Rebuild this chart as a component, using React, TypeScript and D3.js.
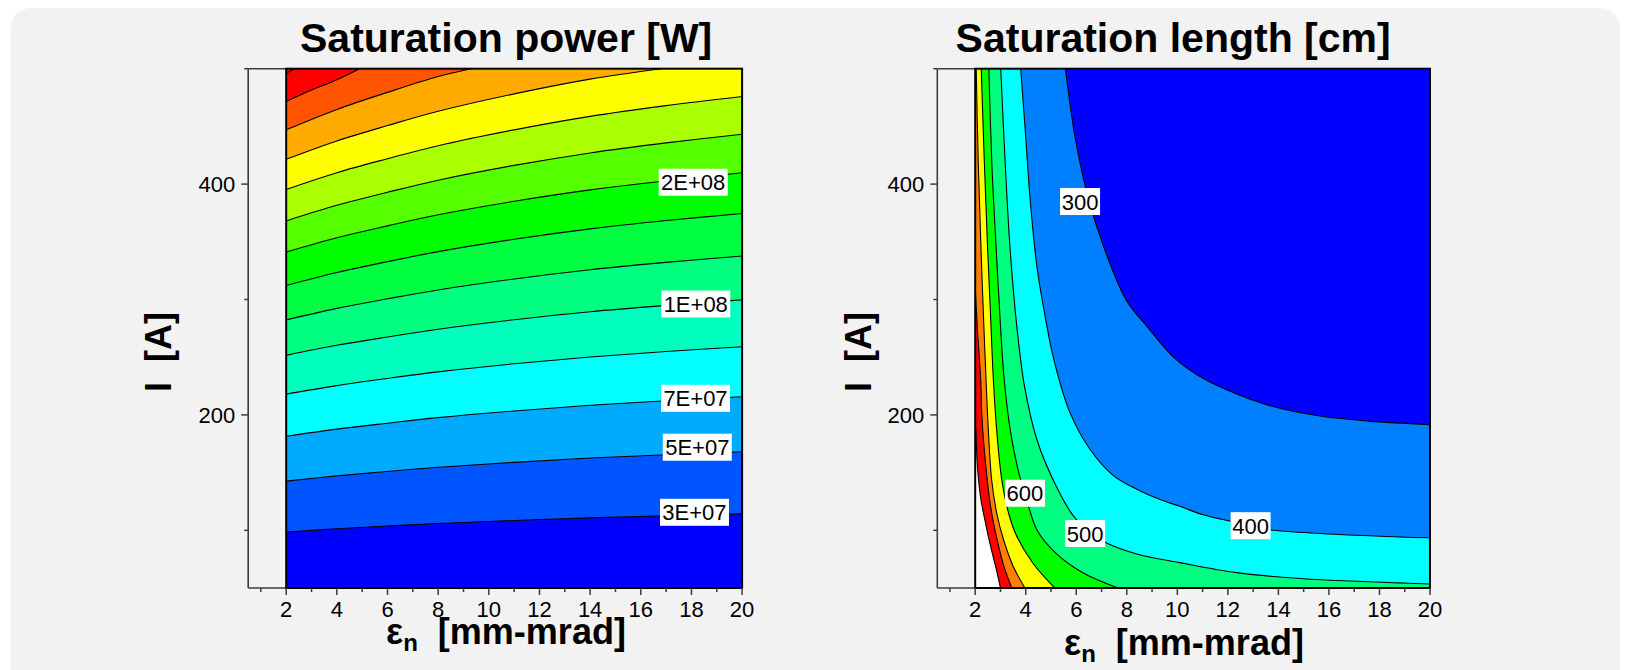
import React from 'react';
import * as d3 from 'd3';

const FONT = "'Liberation Sans', Arial, Helvetica, sans-serif";

// ---- axes ----
const xMajorTicks = [2, 4, 6, 8, 10, 12, 14, 16, 18, 20];
const xMinorTicks = [1, 3, 5, 7, 9, 11, 13, 15, 17, 19];
const yMajorTicks = [200, 400];
const yMinorTicks = [100, 300, 500];

// ---- left panel: saturation power [W] ----
const powerLevels = [3e7, 5e7, 7e7, 9e7, 11e7, 13e7, 15e7, 17e7, 19e7, 21e7, 23e7, 25e7, 27e7, 29e7];
const powerColors = [
  '#0000ff', '#0055ff', '#00aaff', '#00ffff', '#00ffbf', '#00ff80', '#00ff40', '#00ff00',
  '#55ff00', '#aaff00', '#ffff00', '#ffaa00', '#ff5500', '#ff0000', '#ff0000',
];
// contour lines, [emittance, current]
const powerLines: [number, number][][] = [
  [[2, 98.5], [4, 101.3], [6, 103.7], [8, 105.9], [11, 108.5], [14, 110.8], [17, 112.6], [20, 114.2]],
  [[2, 142.6], [4, 147.2], [6, 151.0], [8, 154.6], [11, 158.9], [14, 162.6], [17, 165.5], [20, 168.1]],
  [[2, 181.5], [4, 187.7], [6, 192.8], [8, 197.6], [11, 203.4], [14, 208.3], [17, 212.3], [20, 215.7]],
  [[2, 218], [4, 225.4], [6, 231.6], [8, 237.3], [11, 244.3], [14, 250.2], [17, 255.0], [20, 259.1]],
  [[2, 251.6], [4, 260.3], [6, 267.5], [8, 274.2], [11, 282.4], [14, 289.4], [17, 294.9], [20, 299.7]],
  [[2, 282.3], [4, 292.3], [6, 300.6], [8, 308.3], [11, 317.8], [14, 325.8], [17, 332.2], [20, 337.7]],
  [[2, 312.2], [4, 323.4], [6, 332.8], [8, 341.5], [11, 352.2], [14, 361.2], [17, 368.4], [20, 374.5]],
  [[2, 341.1], [4, 353.5], [6, 363.8], [8, 373.4], [11, 385.1], [14, 395.0], [17, 402.9], [20, 409.8]],
  [[2, 368.1], [4, 381.6], [6, 392.9], [8, 403.4], [11, 416.2], [14, 427.0], [17, 435.7], [20, 443.2]],
  [[2, 395.4], [4, 409.9], [6, 422.0], [8, 433.3], [11, 447.0], [14, 458.7], [17, 468.0], [20, 475.9]],
  [[2, 421.5], [4, 437.4], [6, 450.7], [8, 463.1], [11, 478.2], [14, 491.0], [16.8, 500]],
  [[2, 447], [4, 464.7], [6, 479.5], [8, 493.2], [9.3, 500]],
  [[2, 471.6], [3, 481.5], [4, 490.5], [4.9, 500]],
  [[2, 496.3], [2.35, 500]],
];
const powerLabelText = ['2E+08', '1E+08', '7E+07', '5E+07', '3E+07'];
const powerLabelPos: [number, number][] = [[18.07, 401.6], [18.17, 296.1], [18.16, 214.4], [18.23, 172], [18.12, 115.6]];

// ---- right panel: saturation length [cm] ----
const lengthLevels = [300, 400, 500, 600, 700, 800, 900, 1000];
const lengthColors = ['#0000ff', '#0080ff', '#00ffff', '#00ff80', '#00ff00', '#ffff00', '#ff8000', '#ff0000'];
const lengthTopColor = '#ffffff';
const lengthLines: [number, number][][] = [
  [[5.57, 500], [5.95, 441], [6.45, 390], [7.07, 346.5], [7.99, 299], [8.79, 277], [9.9, 249], [11.03, 231.5], [12.35, 218.2], [13.67, 208], [15.65, 199], [17.6, 194.6], [20, 191.5]],
  [[3.8, 500], [3.98, 447], [4.17, 388], [4.44, 329], [4.77, 285], [5.1, 249], [5.75, 202], [6.55, 170], [7.47, 147.4], [8.39, 135.6], [9.31, 126.7], [10.1, 120.8], [11.03, 113.4], [12.9, 104], [13.67, 100.5], [15.65, 97.2], [18.8, 94.2], [20, 93.5]],
  [[3.01, 500], [3.19, 417], [3.38, 344], [3.65, 276], [3.95, 225], [4.45, 178], [5.1, 143], [5.9, 112], [6.5, 99], [7.2, 89], [8.4, 79.5], [10.1, 72], [12.35, 63.3], [15, 58], [18.8, 54.4], [20, 53.5]],
  [[2.54, 500], [2.66, 417], [2.83, 344], [3.02, 270], [3.15, 230], [3.4, 185], [3.7, 152], [3.98, 131], [4.45, 100], [5.2, 80], [6.28, 63], [7.65, 50]],
  [[2.24, 500], [2.36, 420], [2.48, 350], [2.6, 290], [2.72, 230], [2.85, 187], [3.05, 144], [3.32, 115], [3.64, 95], [4.3, 71], [5.15, 50]],
  [[2.04, 500], [2.12, 420], [2.22, 350], [2.32, 290], [2.43, 230], [2.52, 187], [2.65, 144], [2.85, 115], [3.12, 92], [3.51, 68.5], [3.97, 50]],
  [[2, 310], [2.1, 270], [2.22, 230], [2.26, 201], [2.41, 158], [2.61, 120.5], [2.87, 91.6], [3.14, 68.5], [3.45, 50]],
  [[2, 193], [2.03, 185], [2.08, 158], [2.21, 129], [2.41, 106], [2.61, 86], [2.81, 68.5], [3.0, 50]],
];
const lengthLabelText = ['300', '400', '500', '600'];
const lengthLabelPos: [number, number][] = [[6.15, 384.9], [12.9, 104], [6.35, 97.2], [3.97, 132.1]];

const Y_RANGE: [number, number] = [588, 68.7];

type PanelProps = {
  id: string;
  xRange: [number, number];
  title: string;
  titleX: number;
  xLabelX: number;
  xLabelY: number;
  yLabelX: number;
  kind: 'power' | 'length';
};

function Panel({ id, xRange, title, titleX, xLabelX, xLabelY, yLabelX, kind }: PanelProps) {
  const xS = d3.scaleLinear().domain([0.5, 20]).range(xRange);
  const yS = d3.scaleLinear().domain([50, 500]).range(Y_RANGE);
  const line = d3
    .line<[number, number]>()
    .x((d) => xS(d[0]))
    .y((d) => yS(d[1]))
    .curve(d3.curveCatmullRom.alpha(0.5));

  const px0 = xS(2);
  const px1 = xS(20);
  const pyTop = yS(500);
  const pyBot = yS(50);

  const fills: { d: string; color: string }[] = [];
  let base = '';
  let lines: [number, number][][] = [];
  if (kind === 'power') {
    base = powerColors[0];
    lines = powerLines;
    powerLines.forEach((pts, i) => {
      const last = pts[pts.length - 1];
      const d = `${line(pts)}L${xS(last[0])},${pyTop}L${px0},${pyTop}Z`;
      fills.push({ d, color: powerColors[i + 1] });
    });
  } else {
    base = lengthTopColor;
    lines = lengthLines;
    for (let k = lengthLines.length - 1; k >= 0; k--) {
      const pts = lengthLines[k];
      const first = pts[0];
      const last = pts[pts.length - 1];
      const d = `${line(pts)}L${px1},${yS(last[1])}L${px1},${pyTop}L${px0},${pyTop}L${px0},${yS(first[1])}Z`;
      fills.push({ d, color: lengthColors[k] });
    }
  }

  const labelText = kind === 'power' ? powerLabelText : lengthLabelText;
  const labelPos = kind === 'power' ? powerLabelPos : lengthLabelPos;
  const axisColor = '#3c3c3c';
  const ax = xS(0.5);

  return (
    <g>
      <defs>
        <clipPath id={`clip-${id}`}>
          <rect x={px0} y={pyTop} width={px1 - px0} height={pyBot - pyTop} />
        </clipPath>
      </defs>
      <text x={titleX} y={51.5} fontFamily={FONT} fontWeight="bold" fontSize={41} fill="#000">
        {title}
      </text>
      <g clipPath={`url(#clip-${id})`}>
        <rect x={px0} y={pyTop} width={px1 - px0} height={pyBot - pyTop} fill={base} />
        {fills.map((f, i) => (
          <path key={i} d={f.d} fill={f.color} stroke="none" />
        ))}
        {lines.map((pts, i) => (
          <path key={i} d={line(pts) || ''} fill="none" stroke="#000" strokeWidth={1.1} />
        ))}
      </g>
      {/* contour labels */}
      {labelText.map((t, i) => {
        const cx = xS(labelPos[i][0]);
        const cy = yS(labelPos[i][1]);
        const w = t.length === 5 ? 69 : 40;
        return (
          <g key={t}>
            <rect x={cx - w / 2} y={cy - 13.5} width={w} height={27} fill="#fff" />
            <text x={cx} y={cy + 8} textAnchor="middle" fontFamily={FONT} fontSize={22} fill="#000">
              {t}
            </text>
          </g>
        );
      })}
      {/* axes */}
      <line x1={ax} x2={ax} y1={pyTop} y2={pyBot} stroke={axisColor} strokeWidth={1.6} />
      <line x1={ax} x2={px1} y1={pyBot} y2={pyBot} stroke={axisColor} strokeWidth={1.6} />
      <line x1={ax} x2={px0} y1={pyTop} y2={pyTop} stroke={axisColor} strokeWidth={1.6} />
      <rect x={px0} y={pyTop} width={px1 - px0} height={pyBot - pyTop} fill="none" stroke="#000" strokeWidth={2} />
      {yMajorTicks.map((t) => (
        <g key={`ym${t}`}>
          <line x1={ax - 7} x2={ax} y1={yS(t)} y2={yS(t)} stroke={axisColor} strokeWidth={1.5} />
          <text x={ax - 13} y={yS(t) + 8} textAnchor="end" fontFamily={FONT} fontSize={22} fill="#000">
            {t}
          </text>
        </g>
      ))}
      {yMinorTicks.map((t) => (
        <line key={`yn${t}`} x1={ax - 4} x2={ax} y1={yS(t)} y2={yS(t)} stroke={axisColor} strokeWidth={1.5} />
      ))}
      {xMajorTicks.map((t) => (
        <g key={`xm${t}`}>
          <line x1={xS(t)} x2={xS(t)} y1={pyBot} y2={pyBot + 7} stroke={axisColor} strokeWidth={1.5} />
          <text x={xS(t)} y={617} textAnchor="middle" fontFamily={FONT} fontSize={22} fill="#000">
            {t}
          </text>
        </g>
      ))}
      {xMinorTicks.map((t) => (
        <line key={`xn${t}`} x1={xS(t)} x2={xS(t)} y1={pyBot} y2={pyBot + 4} stroke={axisColor} strokeWidth={1.5} />
      ))}
      {/* axis titles */}
      <text
        x={xLabelX}
        y={xLabelY}
        textAnchor="middle"
        fontFamily={FONT}
        fontWeight="bold"
        fontSize={36}
        fill="#000"
        style={{ whiteSpace: 'pre' }}
      >
        ε
        <tspan fontSize={24} dy={7}>n</tspan>
        <tspan dy={-7}>{'  [mm-mrad]'}</tspan>
      </text>
      <text
        transform={`translate(${yLabelX},352) rotate(-90)`}
        textAnchor="middle"
        fontFamily={FONT}
        fontWeight="bold"
        fontSize={36}
        fill="#000"
        style={{ whiteSpace: 'pre' }}
      >
        {'I  [A]'}
      </text>
    </g>
  );
}

export default function App() {
  return (
    <svg
      width={1632}
      height={670}
      viewBox="0 0 1632 670"
      style={{ position: 'absolute', left: 0, top: 0, background: '#fff' }}
    >
      <rect x={11} y={8} width={1609} height={720} rx={20} ry={20} fill="#f2f2f2" />
      <Panel
        id="power"
        kind="power"
        xRange={[248.2, 742.1]}
        title="Saturation power [W]"
        titleX={300}
        xLabelX={506}
        xLabelY={644}
        yLabelX={171}
      />
      <Panel
        id="length"
        kind="length"
        xRange={[937.3, 1430]}
        title="Saturation length [cm]"
        titleX={955.6}
        xLabelX={1184}
        xLabelY={655}
        yLabelX={871}
      />
    </svg>
  );
}
